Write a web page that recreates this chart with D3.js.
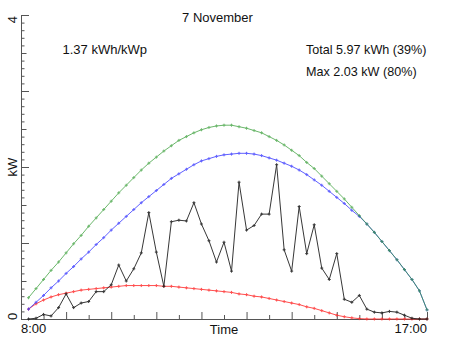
<!DOCTYPE html>
<html>
<head>
<meta charset="utf-8">
<script src="https://cdn.jsdelivr.net/npm/d3@7"></script>
<style>
  html, body { margin: 0; padding: 0; background: #fff; }
  svg { display: block; font-family: "Liberation Sans", Arial, sans-serif; }
</style>
</head>
<body>
<svg id="chart" width="452" height="339"></svg>
<script>
// 10-minute samples for 7 November
const times = ["8:10","8:20","8:30","8:40","8:50","9:00","9:10","9:20","9:30","9:40","9:50","10:00",
  "10:10","10:20","10:30","10:40","10:50","11:00","11:10","11:20","11:30","11:40","11:50","12:00",
  "12:10","12:20","12:30","12:40","12:50","13:00","13:10","13:20","13:30","13:40","13:50","14:00",
  "14:10","14:20","14:30","14:40","14:50","15:00","15:10","15:20","15:30","15:40","15:50","16:00",
  "16:10","16:20","16:30","16:40","16:50","17:00"];

// clear-sky maximum (kW)
const clearSky = [0.28,0.40,0.52,0.64,0.75,0.87,0.99,1.10,1.22,1.33,1.44,1.55,
  1.66,1.76,1.86,1.96,2.05,2.13,2.21,2.28,2.35,2.40,2.45,2.49,
  2.52,2.54,2.55,2.55,2.53,2.51,2.48,2.45,2.40,2.35,2.29,2.22,
  2.15,2.06,1.98,1.88,1.78,1.68,1.58,1.47,1.36,1.25,1.14,1.02,
  0.90,0.78,0.65,0.52,0.37,0.12];

// expected output (kW)
const expected = [0.13,0.22,0.31,0.41,0.50,0.60,0.69,0.79,0.88,0.98,1.07,1.17,
  1.26,1.35,1.44,1.53,1.61,1.69,1.77,1.85,1.91,1.97,2.03,2.08,
  2.11,2.14,2.16,2.17,2.18,2.18,2.17,2.15,2.12,2.09,2.05,2.01,
  1.96,1.90,1.83,1.76,1.68,1.60,1.52,1.43,1.35,1.25,1.14,1.02,
  0.90,0.78,0.65,0.52,0.37,0.12];

// diffuse-only output (kW)
const diffuse = [0.13,0.20,0.25,0.29,0.32,0.34,0.36,0.38,0.39,0.40,0.41,0.42,
  0.43,0.44,0.44,0.44,0.44,0.44,0.43,0.43,0.42,0.41,0.40,0.39,
  0.38,0.37,0.36,0.35,0.33,0.32,0.30,0.29,0.27,0.25,0.23,0.21,
  0.19,0.16,0.14,0.11,0.08,0.05,0.03,0.015,0.005,0,0,0,
  0,0,0,0,0,0];

// measured output (kW)
const measured = [0.00,0.01,0.06,0.04,0.15,0.33,0.15,0.21,0.23,0.36,0.36,0.45,
  0.71,0.50,0.66,0.87,1.40,0.88,0.43,1.28,1.30,1.29,1.53,1.25,
  1.03,0.75,1.01,0.63,1.80,1.17,1.23,1.38,1.38,2.03,0.91,0.63,
  1.48,0.86,1.24,0.67,0.52,0.86,0.26,0.22,0.31,0.13,0.09,0.08,
  0.10,0.09,0.05,0.01,0.00,0.00];

const yTicksMajor = [0, 1, 2, 3, 4];
const yLabels = ["0", "4"];
const title = "7 November";
const specific = "1.37 kWh/kWp";
const totalText = "Total 5.97 kWh (39%)";
const maxText = "Max 2.03 kW (80%)";

const svg = d3.select("#chart");
const parse = d3.timeParse("%H:%M");
const day = s => parse(s);

const x = d3.scaleTime().domain([day("8:00"), day("17:00")]).range([21, 427]);
const y = d3.scaleLinear().domain([0, 4]).range([319, 15]);
const axisColor = "#555";

// y axis: minor, medium and major ticks pointing inward
function yAxis(values, size) {
  const g = svg.append("g").attr("transform", "translate(21,0)")
    .call(d3.axisLeft(y).tickValues(values).tickSize(-size).tickSizeOuter(0).tickFormat(""));
  g.selectAll("line").attr("stroke", axisColor);
  g.select(".domain").attr("stroke", axisColor);
}
yAxis(d3.range(0, 41).map(k => k / 10), 3.5);
yAxis([0.5, 1.5, 2.5, 3.5], 5.5);
yAxis(yTicksMajor, 8);

// x axis: hours long, half hours short
function xAxis(values, size) {
  const g = svg.append("g").attr("transform", "translate(0,319)")
    .call(d3.axisBottom(x).tickValues(values).tickSize(-size).tickSizeOuter(0).tickFormat(""));
  g.selectAll("line").attr("stroke", axisColor);
  g.select(".domain").attr("stroke", axisColor);
}
const hours = d3.range(9, 18).map(h => day(h + ":00"));
const halves = d3.range(8, 17).map(h => day(h + ":30"));
xAxis(halves, 4);
xAxis(hours, 7);

// axis labels
const txt = (xx, yy, s, anchor, size) => svg.append("text")
  .attr("x", xx).attr("y", yy).attr("text-anchor", anchor)
  .attr("font-size", size || 13).attr("fill", "#111").text(s);

txt(21, 333, "8:00", "start");
txt(224, 334, "Time", "middle");
txt(427, 333, "17:00", "end");

const rot = (bx, cy, s) => svg.append("text")
  .attr("transform", `translate(${bx},${cy}) rotate(-90)`)
  .attr("text-anchor", "middle").attr("font-size", 13).attr("fill", "#111").text(s);
rot(16.5, y(4) + 4.7, yLabels[1]);
rot(16.5, y(0) - 2.5, yLabels[0]);
rot(17, y(2), "kW");

txt(217.5, 22, title, "middle");
txt(62.5, 54, specific, "start");
txt(306, 54, totalText, "start", 12.6);
txt(306, 76, maxText, "start", 12.6);

// series
const line = d3.line().x((d, i) => x(day(times[i]))).y(d => y(d));
function series(values, color, opacity) {
  const g = svg.append("g").attr("opacity", opacity);
  g.append("path").datum(values).attr("d", line)
    .attr("fill", "none").attr("stroke", color).attr("stroke-width", 1);
  g.selectAll("path.m").data(values).join("path").attr("class", "m")
    .attr("d", (d, i) => {
      const cx = x(day(times[i])), cy = y(d);
      return `M${cx - 1.5},${cy}H${cx + 1.5}M${cx},${cy - 1.5}V${cy + 1.5}`;
    })
    .attr("stroke", color).attr("stroke-width", 1);
}
series(diffuse, "#ff3030", 0.85);
series(expected, "#3a3aff", 0.8);
series(clearSky, "#2e9a2e", 0.7);
series(measured, "#222", 0.9);
</script>
</body>
</html>
